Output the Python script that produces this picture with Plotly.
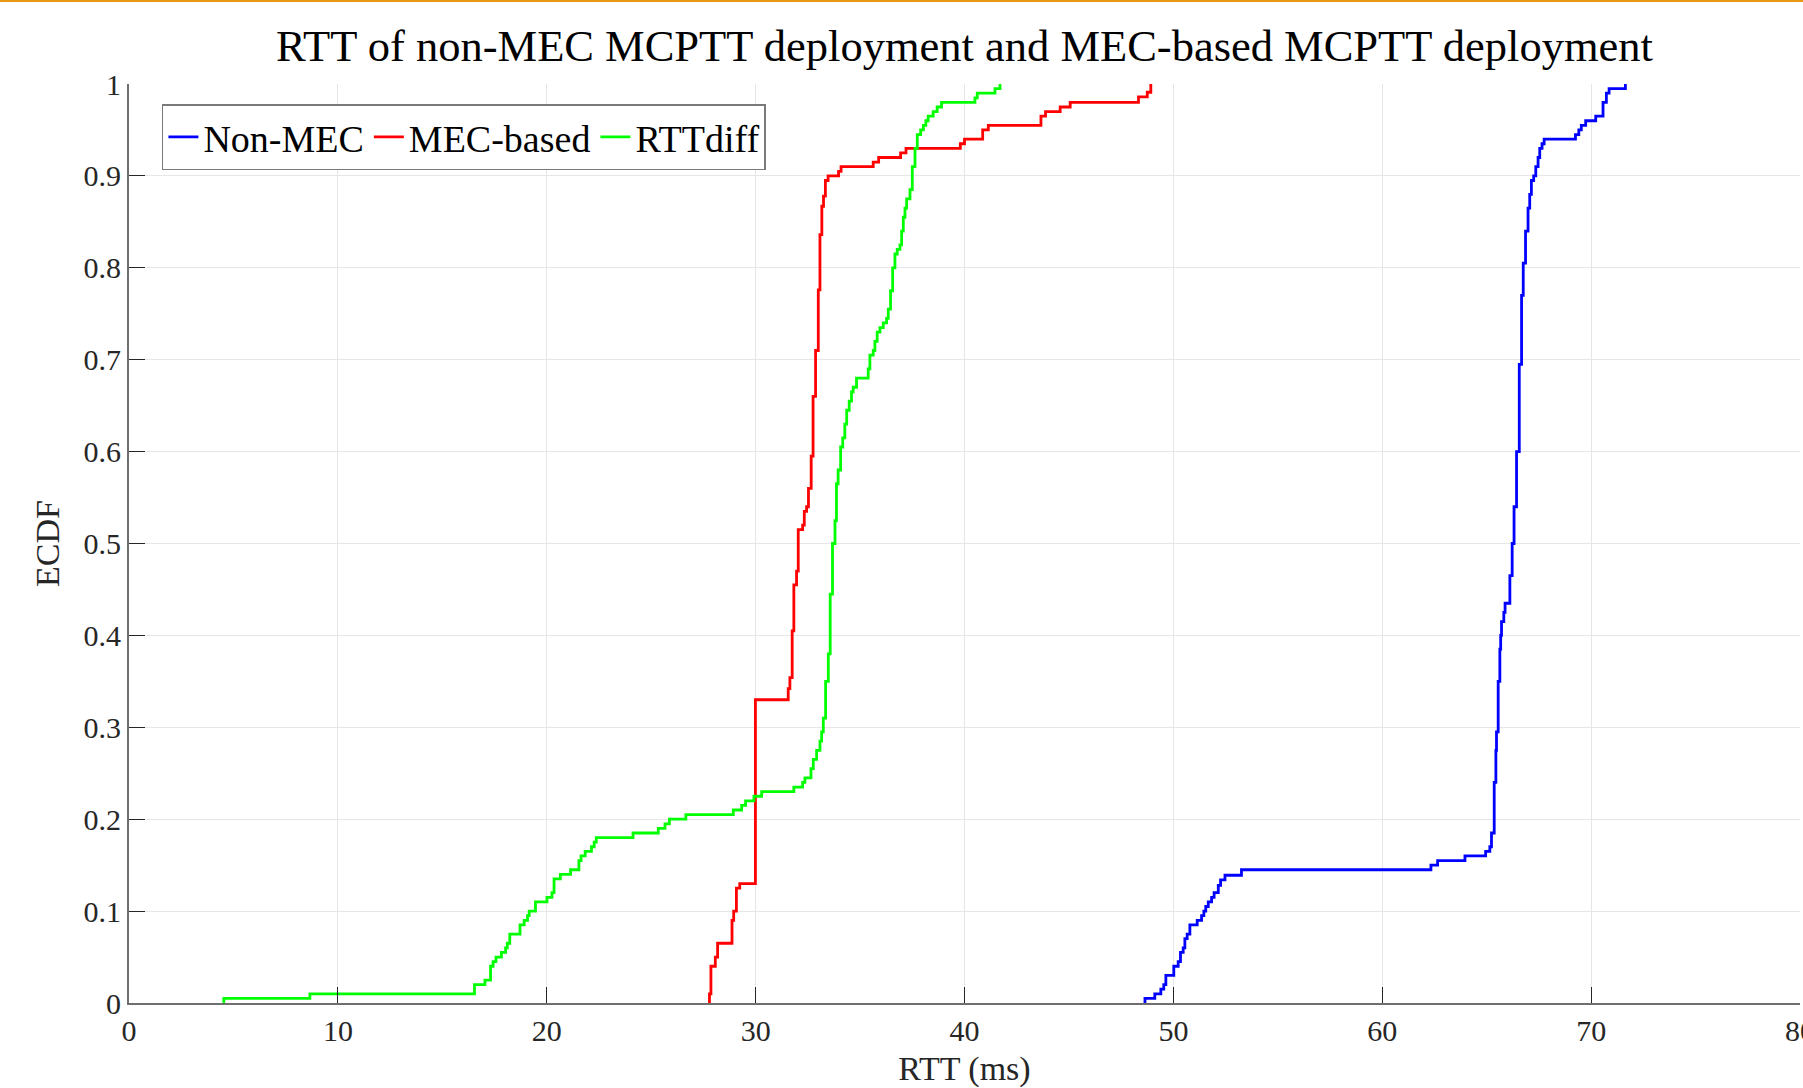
import plotly.graph_objects as go

# ---------------- data ----------------
# ECDF step vertices: x = RTT (ms), y = cumulative fraction after the step
nonmec_x = [48.64, 48.64, 49.11, 49.40, 49.54, 49.64, 50.02, 50.23, 50.34, 50.47,
            50.55, 50.66, 50.79, 51.14, 51.35, 51.46, 51.55, 51.67, 51.83, 51.95,
            52.15, 52.26, 52.47, 53.26, 62.33, 62.65, 63.96, 64.95, 65.15, 65.23,
            65.36, 65.44, 65.47, 65.55, 65.63, 65.67, 65.71, 65.82, 65.88, 66.11,
            66.22, 66.31, 66.43, 66.56, 66.67, 66.75, 66.86, 66.98, 67.06, 67.14,
            67.25, 67.35, 67.46, 67.54, 67.65, 67.75, 69.25, 69.41, 69.53, 69.74,
            70.22, 70.57, 70.73, 70.86, 71.64]
nonmec_y = [0.000, 0.005, 0.010, 0.015, 0.020, 0.030, 0.040, 0.045, 0.055, 0.060,
            0.070, 0.075, 0.085, 0.090, 0.095, 0.100, 0.105, 0.110, 0.115, 0.120,
            0.128, 0.134, 0.139, 0.145, 0.150, 0.155, 0.160, 0.165, 0.170, 0.185,
            0.240, 0.275, 0.295, 0.350, 0.385, 0.400, 0.415, 0.425, 0.435, 0.465,
            0.500, 0.540, 0.600, 0.695, 0.770, 0.805, 0.840, 0.865, 0.880, 0.895,
            0.900, 0.910, 0.920, 0.930, 0.935, 0.940, 0.945, 0.950, 0.955, 0.960,
            0.965, 0.980, 0.990, 0.995, 1.000]

mec_x = [27.79, 27.79, 27.86, 28.07, 28.18, 28.87, 28.95, 29.08, 29.24, 29.99,
         31.56, 31.64, 31.75, 31.83, 31.96, 32.04, 32.25, 32.33, 32.44, 32.53,
         32.66, 32.75, 32.87, 33.00, 33.08, 33.17, 33.25, 33.34, 33.47, 33.97,
         34.09, 35.63, 35.89, 36.94, 37.20, 39.80, 40.00, 40.87, 41.14, 43.66,
         43.88, 44.58, 45.06, 48.33, 48.75, 48.92]
mec_y = [0.000, 0.010, 0.040, 0.050, 0.065, 0.090, 0.100, 0.125, 0.130, 0.330,
         0.342, 0.354, 0.405, 0.455, 0.470, 0.515, 0.520, 0.535, 0.540, 0.560,
         0.595, 0.660, 0.710, 0.776, 0.836, 0.867, 0.878, 0.895, 0.900, 0.905,
         0.910, 0.915, 0.920, 0.925, 0.930, 0.935, 0.940, 0.950, 0.955, 0.965,
         0.970, 0.975, 0.980, 0.986, 0.991, 1.000]

diff_x = [4.54, 4.54, 8.66, 16.54, 17.04, 17.31, 17.43, 17.57, 17.83, 18.03,
          18.11, 18.23, 18.72, 18.92, 19.08, 19.16, 19.46, 20.01, 20.25, 20.35,
          20.65, 21.14, 21.54, 21.64, 21.84, 22.14, 22.27, 22.37, 24.13, 25.34,
          25.66, 25.87, 26.66, 28.93, 29.33, 29.52, 29.92, 30.29, 31.83, 32.25,
          32.36, 32.65, 32.76, 32.92, 33.08, 33.16, 33.24, 33.35, 33.48, 33.57,
          33.68, 33.80, 33.87, 33.95, 34.07, 34.17, 34.27, 34.36, 34.48, 34.59,
          34.67, 34.83, 35.39, 35.47, 35.63, 35.71, 35.82, 35.95, 36.11, 36.27,
          36.35, 36.46, 36.56, 36.67, 36.78, 36.91, 36.99, 37.07, 37.15, 37.23,
          37.39, 37.50, 37.63, 37.74, 37.90, 38.03, 38.15, 38.26, 38.50, 38.69,
          38.90, 40.50, 40.61, 41.46, 41.70]
diff_y = [0.000, 0.005, 0.010, 0.020, 0.025, 0.040, 0.045, 0.050, 0.055, 0.060,
          0.065, 0.075, 0.085, 0.090, 0.095, 0.100, 0.110, 0.115, 0.120, 0.135,
          0.140, 0.145, 0.155, 0.160, 0.165, 0.170, 0.175, 0.180, 0.185, 0.190,
          0.195, 0.200, 0.205, 0.210, 0.215, 0.220, 0.225, 0.230, 0.235, 0.240,
          0.245, 0.255, 0.265, 0.275, 0.285, 0.295, 0.310, 0.350, 0.380, 0.445,
          0.500, 0.525, 0.565, 0.580, 0.605, 0.615, 0.630, 0.645, 0.655, 0.665,
          0.670, 0.680, 0.690, 0.705, 0.710, 0.720, 0.730, 0.735, 0.740, 0.745,
          0.755, 0.775, 0.800, 0.815, 0.820, 0.825, 0.840, 0.855, 0.865, 0.875,
          0.885, 0.910, 0.930, 0.945, 0.950, 0.955, 0.960, 0.965, 0.970, 0.975,
          0.980, 0.985, 0.990, 0.995, 1.000]

series_names = ["Non-MEC", "MEC-based", "RTTdiff"]
series_colors = ["#0000FF", "#FF0000", "#00FF00"]

x_ticks = [0, 10, 20, 30, 40, 50, 60, 70, 80]
y_ticks = [0, 0.1, 0.2, 0.3, 0.4, 0.5, 0.6, 0.7, 0.8, 0.9, 1]
y_tick_labels = ["0", "0.1", "0.2", "0.3", "0.4", "0.5", "0.6", "0.7", "0.8", "0.9", "1"]

title_text = "RTT of non-MEC MCPTT deployment and MEC-based MCPTT deployment"
x_label = "RTT (ms)"
y_label = "ECDF"

# ---------------- figure ----------------
FONT = "Liberation Serif"
fig = go.Figure()
for name, xs, ys, col in zip(series_names,
                             [nonmec_x, mec_x, diff_x],
                             [nonmec_y, mec_y, diff_y],
                             series_colors):
    fig.add_trace(go.Scatter(x=xs, y=ys, mode="lines", name=name,
                             line=dict(color=col, width=2.8, shape="hv")))

axis_common = dict(
    ticks="inside", ticklen=16, tickwidth=1.3, tickcolor="#262626",
    showline=True, linecolor="#6e6e6e", linewidth=1.8,
    showgrid=True, gridcolor="#e6e6e6", gridwidth=1.3,
    zeroline=False, mirror=False, automargin=False,
    tickfont=dict(family=FONT, size=30, color="#262626"),
)

fig.update_layout(
    width=1803, height=1088,
    margin=dict(l=129, r=3, t=84, b=85, autoexpand=False),
    paper_bgcolor="white", plot_bgcolor="white",
    font=dict(family=FONT, color="#262626", size=28),
    title=dict(text=title_text, x=0.5, xref="paper", xanchor="center",
               y=1 - 45 / 1088, yref="container", yanchor="middle",
               font=dict(family=FONT, size=44.5, color="#000000")),
    showlegend=True,
    legend=dict(orientation="h", x=0.0197, y=0.978, xanchor="left", yanchor="top",
                bgcolor="white", bordercolor="#7a7a7a", borderwidth=1.5,
                font=dict(family=FONT, size=38, color="#000000"),
                itemwidth=30, tracegroupgap=0),
    xaxis=dict(range=[0, 80], tickmode="array", tickvals=x_ticks,
               ticklabeloverflow="allow",
               title=dict(text=x_label, font=dict(family=FONT, size=34, color="#262626"),
                          standoff=10),
               **axis_common),
    yaxis=dict(range=[0, 1], tickmode="array", tickvals=y_ticks, ticktext=y_tick_labels,
               title=dict(text=y_label, font=dict(family=FONT, size=34, color="#262626"),
                          standoff=14),
               **axis_common),
    shapes=[dict(type="line", xref="paper", yref="paper",
                 x0=-0.2, x1=1.2, y0=1002 / 919, y1=1002 / 919,
                 line=dict(color="#E89B12", width=2))],
)

fig.write_html("out.html")
